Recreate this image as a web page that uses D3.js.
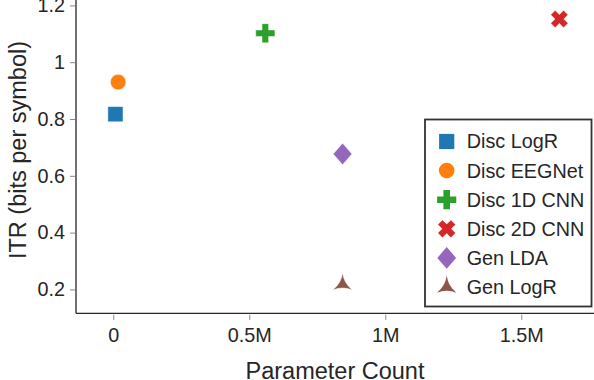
<!DOCTYPE html>
<html>
<head>
<meta charset="utf-8">
<script src="https://cdn.jsdelivr.net/npm/d3@7"></script>
<style>
  body { margin: 0; background: #fff; }
  text { font-family: "Liberation Sans", Arial, sans-serif; fill: #262626; }
</style>
</head>
<body>
<div class="chart"></div>
<script>
// data
const models = ['Disc LogR', 'Disc EEGNet', 'Disc 1D CNN', 'Disc 2D CNN', 'Gen LDA', 'Gen LogR'];
const paramCounts = [8000, 18000, 559000, 1640000, 843000, 843000];
const itrValues = [0.817, 0.930, 1.102, 1.152, 0.677, 0.218];
const shapes = ['square', 'circle', 'plus', 'cross', 'diamond', 'tri'];
const colors = ['#1f77b4', '#ff7f0e', '#2ca02c', '#d62728', '#9467bd', '#8c564b'];
const xTicks = [0, 500000, 1000000, 1500000];
const xTickLabels = ['0', '0.5M', '1M', '1.5M'];
const yTicks = [0.2, 0.4, 0.6, 0.8, 1, 1.2];

const W = 594, H = 380;
const plotLeft = 76, plotRight = 598, plotTop = 0, plotBottom = 313.3;

const svg = d3.select('.chart').append('svg')
  .attr('width', W)
  .attr('height', H);

const x = d3.scaleLinear().domain([-137000, 1782000]).range([plotLeft, plotRight]);
const y = d3.scaleLinear().domain([0.116, 1.219]).range([plotBottom, plotTop]);

// marker shapes as path strings, centred on 0,0
function markerPath(shape) {
  if (shape === 'square') {
    return 'M-7.6,-7.6H7.6V7.6H-7.6Z';
  }
  if (shape === 'circle') {
    const r = 7.8;
    return `M${r},0A${r},${r} 0 1,1 ${-r},0A${r},${r} 0 1,1 ${r},0Z`;
  }
  if (shape === 'plus') {
    const a = 9.6, b = 3.3;
    return `M${-b},${-a}H${b}V${-b}H${a}V${b}H${b}V${a}H${-b}V${b}H${-a}V${-b}H${-b}Z`;
  }
  if (shape === 'cross') {
    const a = 9.6, b = 3.3;
    const p = [[-b, -a], [b, -a], [b, -b], [a, -b], [a, b], [b, b], [b, a], [-b, a], [-b, b], [-a, b], [-a, -b], [-b, -b]];
    const c = Math.SQRT1_2;
    return 'M' + p.map(([px, py]) => `${(px - py) * c * 0.95},${(px + py) * c * 0.95}`).join('L') + 'Z';
  }
  if (shape === 'diamond') {
    return 'M0,-10.8L9.4,0L0,10.8L-9.4,0Z';
  }
  // three pointed star with concave sides
  const r = 11.3;
  const tips = [-90, 30, 150].map(a => [r * Math.cos(a * Math.PI / 180), r * Math.sin(a * Math.PI / 180)]);
  const k = 0.3;
  let d = `M${tips[0][0]},${tips[0][1]}`;
  for (let i = 1; i <= 3; i++) {
    const p = tips[i % 3];
    const q = tips[i - 1];
    const cx = (p[0] + q[0]) / 2 * k;
    const cy = (p[1] + q[1]) / 2 * k;
    d += `Q${cx},${cy} ${p[0]},${p[1]}`;
  }
  return d + 'Z';
}

// axes
const xAxis = d3.axisBottom(x)
  .tickValues(xTicks)
  .tickFormat((d, i) => xTickLabels[i])
  .tickSize(5)
  .tickPadding(8);

const yAxis = d3.axisLeft(y)
  .tickValues(yTicks)
  .tickFormat(d => String(d))
  .tickSize(5)
  .tickPadding(5);

const gx = svg.append('g')
  .attr('transform', `translate(0,${plotBottom + 1.5})`)
  .call(xAxis);
gx.select('.domain').remove();
gx.selectAll('.tick line').attr('stroke', '#888').attr('stroke-width', 1);
gx.selectAll('.tick text')
  .style('font-size', '19.8px')
  .style('font-family', '"Liberation Sans", Arial, sans-serif')
  .attr('fill', '#262626');

const gy = svg.append('g')
  .attr('transform', `translate(${plotLeft - 1},0)`)
  .call(yAxis);
gy.select('.domain').remove();
gy.selectAll('.tick line').attr('stroke', '#888').attr('stroke-width', 1);
gy.selectAll('.tick text')
  .style('font-size', '19.8px')
  .style('font-family', '"Liberation Sans", Arial, sans-serif')
  .attr('fill', '#262626');

// spines
svg.append('line')
  .attr('x1', plotLeft).attr('x2', plotLeft)
  .attr('y1', plotTop).attr('y2', plotBottom)
  .attr('stroke', '#262626').attr('stroke-width', 1.3);
svg.append('line')
  .attr('x1', plotLeft).attr('x2', W)
  .attr('y1', plotBottom).attr('y2', plotBottom)
  .attr('stroke', '#262626').attr('stroke-width', 1.3);

// axis titles
svg.append('text')
  .attr('x', (plotLeft + W) / 2)
  .attr('y', 379)
  .attr('text-anchor', 'middle')
  .style('font-size', '23.5px')
  .text('Parameter Count');

svg.append('text')
  .attr('transform', 'translate(26,150) rotate(-90)')
  .attr('text-anchor', 'middle')
  .style('font-size', '23.5px')
  .text('ITR (bits per symbol)');

// points
const pts = models.map((m, i) => ({
  model: m,
  x: paramCounts[i],
  y: itrValues[i],
  shape: shapes[i],
  color: colors[i],
}));

svg.selectAll('.pt')
  .data(pts)
  .enter()
  .append('path')
  .attr('class', 'pt')
  .attr('transform', d => `translate(${x(d.x)},${y(d.y)})`)
  .attr('d', d => markerPath(d.shape))
  .attr('fill', d => d.color)
  .attr('stroke', '#fff')
  .attr('stroke-width', 0.5);

// legend
const lg = svg.append('g').attr('class', 'legend');
lg.append('rect')
  .attr('x', 425)
  .attr('y', 119.5)
  .attr('width', 166.5)
  .attr('height', 187)
  .attr('fill', '#fff')
  .attr('stroke', '#333')
  .attr('stroke-width', 1.8);

const rows = lg.selectAll('.row')
  .data(pts)
  .enter()
  .append('g')
  .attr('class', 'row')
  .attr('transform', (d, i) => `translate(446.7,${141.5 + i * 29.1})`);

rows.append('path')
  .attr('d', d => markerPath(d.shape))
  .attr('fill', d => d.color);

rows.append('text')
  .attr('x', 20)
  .attr('dy', '0.35em')
  .style('font-size', '19.8px')
  .text(d => d.model);
</script>
</body>
</html>
